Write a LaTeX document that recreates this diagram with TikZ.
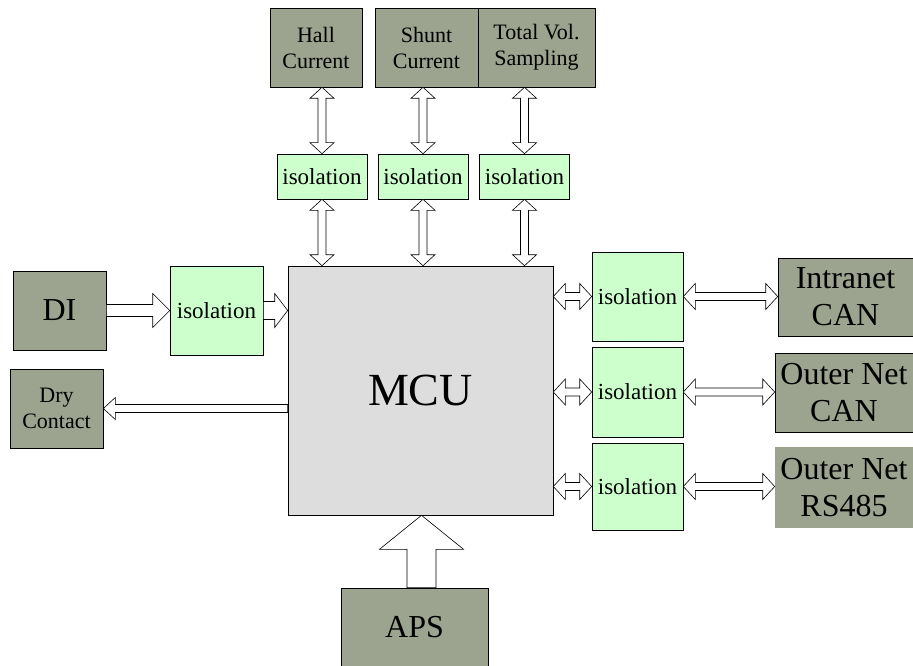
\documentclass[tikz,border=0pt]{standalone}
\usepackage{fontspec}
\setmainfont{Liberation Serif}
\usetikzlibrary{calc}
\definecolor{extgray}{RGB}{156,163,142}
\definecolor{isogreen}{RGB}{204,255,204}
\definecolor{mcugray}{RGB}{221,221,221}
\tikzset{
  box/.style={draw, line width=0.6pt, inner sep=0pt, align=center},
  ext/.style={box, fill=extgray, font=\fontsize{32}{37}\selectfont},
  extsmall/.style={box, fill=extgray, font=\fontsize{22}{26}\selectfont},
  iso/.style={box, fill=isogreen, font=\fontsize{23}{26}\selectfont},
  % hollow block arrows: half shaft width, half head width, head length
  oneway/.style n args={3}{fill=white, line width=0.6pt, to path={
    let \p1=(\tikztostart), \p2=(\tikztotarget), \p3=($(\p2)!#3!(\p1)$) in
    ($(\p1)!#1!90:(\p2)$) -- ($(\p3)!#1!90:(\p2)$) -- ($(\p3)!#2!90:(\p2)$) -- (\p2)
    -- ($(\p3)!#2!-90:(\p2)$) -- ($(\p3)!#1!-90:(\p2)$) -- ($(\p1)!#1!-90:(\p2)$) -- cycle}},
  twoway/.style n args={3}{fill=white, line width=0.6pt, to path={
    let \p1=(\tikztostart), \p2=(\tikztotarget), \p3=($(\p1)!#3!(\p2)$), \p4=($(\p2)!#3!(\p1)$) in
    (\p1) -- ($(\p3)!#2!90:(\p2)$) -- ($(\p3)!#1!90:(\p2)$) -- ($(\p4)!#1!90:(\p2)$)
    -- ($(\p4)!#2!90:(\p2)$) -- (\p2) -- ($(\p4)!#2!-90:(\p2)$) -- ($(\p4)!#1!-90:(\p2)$)
    -- ($(\p3)!#1!-90:(\p2)$) -- ($(\p3)!#2!-90:(\p2)$) -- cycle}}
}
\begin{document}
\begin{tikzpicture}[x=1pt, y=-1pt]
  \useasboundingbox (0,0) rectangle (913,666);

  % central controller
  \node[box, fill=mcugray, minimum width=265pt, minimum height=249pt,
        font=\fontsize{46}{50}\selectfont] (mcu) at (420.5,390.5) {MCU};

  % sampling inputs on top
  \node[extsmall, minimum width=92pt, minimum height=79pt] (hall) at (316,47.5) {Hall\\Current};
  \node[extsmall, minimum width=103pt, minimum height=79pt] (shunt) at (426.5,47.5) {Shunt\\Current};
  \node[extsmall, minimum width=117pt, minimum height=79pt] (total) at (536.5,47.5) {Total Vol.\\Sampling};

  \foreach[count=\i] \x in {322, 423, 524.5}
    \node[iso, minimum width=90pt, minimum height=45pt] (isoT\i) at (\x,176.5) {isolation};

  % left side
  \node[ext, minimum width=93pt, minimum height=79pt] (di) at (59.5,310.5) {DI};
  \node[iso, minimum width=93pt, minimum height=89pt] (isoL) at (216.5,310.5) {isolation};
  \node[extsmall, minimum width=93pt, minimum height=79pt] (dry) at (56.5,408.5) {Dry\\Contact};

  % right side
  \foreach[count=\i] \y/\h in {296.5/89, 392/90, 486.5/87}
    \node[iso, minimum width=91pt, minimum height=\h pt] (isoR\i) at (637.5,\y) {isolation};
  \node[ext, minimum width=135pt, minimum height=78pt] (intra) at (845.5,297) {Intranet\\CAN};
  \node[ext, minimum width=138pt, minimum height=79pt] (outcan) at (844,392.5) {Outer Net\\CAN};
  \node[ext, draw=none, minimum width=138pt, minimum height=81pt] (outrs) at (844,487.5) {Outer Net\\RS485};

  % power supply
  \node[ext, minimum width=147pt, minimum height=78pt] (aps) at (414.5,627) {APS};

  % connectors
  \foreach \i/\src in {1/hall, 2/shunt, 3/total} {
    \draw[twoway={4pt}{12pt}{11pt}] (isoT\i.north |- \src.south) to (isoT\i.north);
    \draw[twoway={4pt}{12pt}{11pt}] (isoT\i.south) to (isoT\i.south |- mcu.north);
  }
  \draw[oneway={6pt}{17pt}{17pt}] (di.east) to (isoL.west);
  \draw[oneway={9pt}{17pt}{13pt}] (isoL.east) to (isoL.east -| mcu.west);
  \draw[oneway={4pt}{11pt}{12pt}] (dry.east -| mcu.west) to (dry.east);
  \foreach \i/\dst in {1/intra, 2/outcan, 3/outrs} {
    \draw[twoway={4pt}{13pt}{12pt}] (isoR\i.west -| mcu.east) to (isoR\i.west);
    \draw[twoway={4pt}{13pt}{12pt}] (isoR\i.east) to (isoR\i.east -| \dst.west);
  }
  \draw[oneway={14.5pt}{42pt}{34pt}] ([xshift=7pt]aps.north) to ([xshift=7pt]aps.north |- mcu.south);
\end{tikzpicture}
\end{document}
